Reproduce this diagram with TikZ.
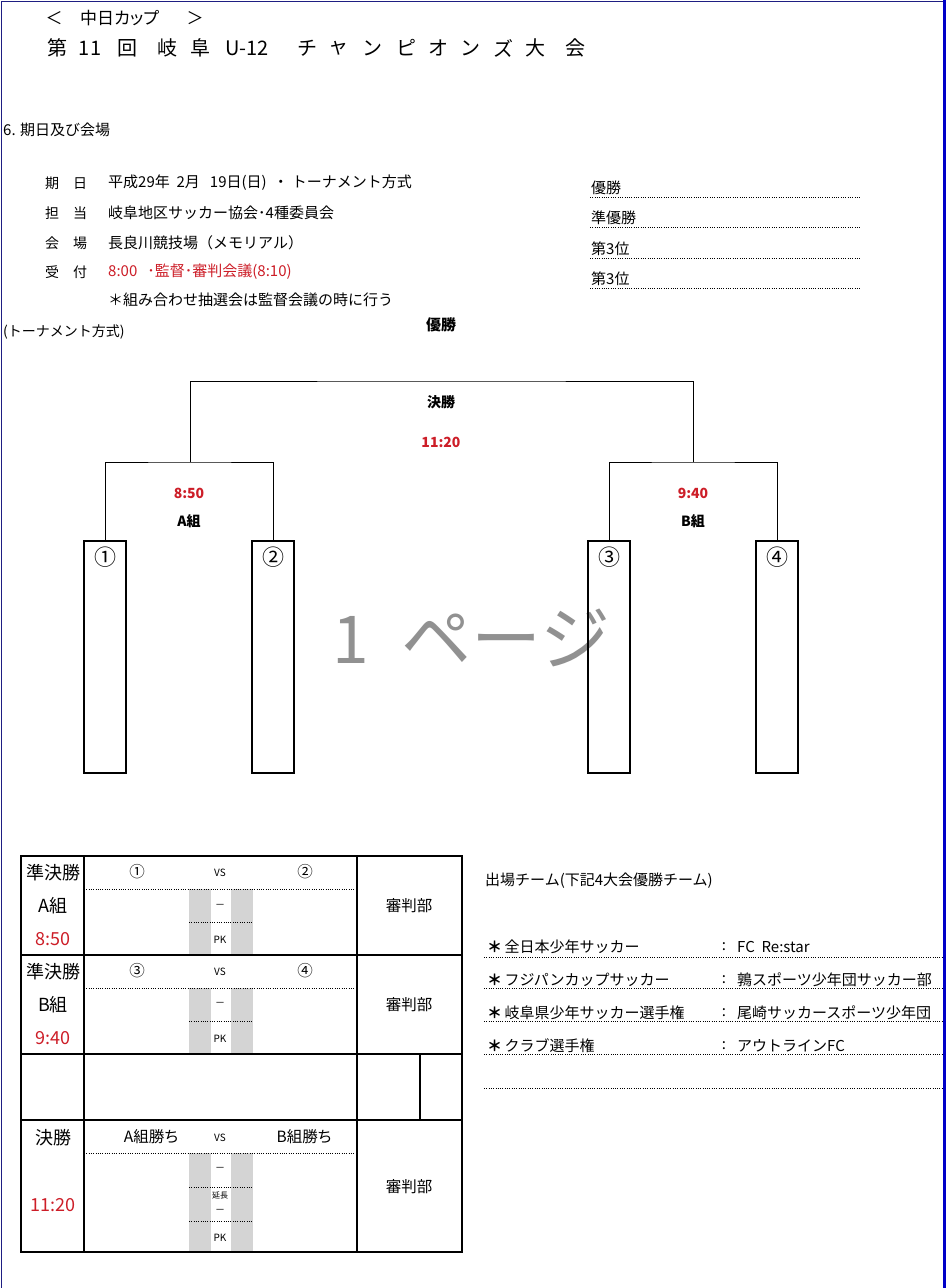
\documentclass[tikz,border=0pt]{standalone}
\usepackage{fontspec}
\setmainfont{Noto Sans CJK JP}
\newfontfamily\pf{Noto Sans CJK JP}[RawFeature={+palt}]
\definecolor{navyb}{RGB}{30,30,130}
\definecolor{blueb}{RGB}{0,0,200}
\definecolor{redt}{RGB}{205,30,40}
\definecolor{lg}{RGB}{212,212,212}
\definecolor{wm}{RGB}{145,145,145}
\tikzset{
  tx/.style={inner sep=0pt, font=\fontsize{14}{16}\selectfont},
  txw/.style={tx, anchor=west},
  vw/.style={inner sep=0pt, anchor=west, font=\fontsize{15}{17}\selectfont},
  ttl/.style={inner sep=0pt, font=\fontsize{20}{22}\selectfont},
  dotl/.style={line width=0.8pt, dash pattern=on 1pt off 1.3pt},
  brk/.style={line width=0.9pt},
  bx/.style={draw, line width=2pt, minimum width=42pt, minimum height=232pt, inner sep=0pt},
  tb/.style={line width=2.5pt},
  bl/.style={inner sep=0pt, font=\bfseries\fontsize{14}{16}\selectfont},
  big/.style={inner sep=0pt, font=\fontsize{18}{20}\selectfont},
  sm/.style={inner sep=0pt, font=\fontsize{10}{12}\selectfont},
  mid/.style={inner sep=0pt, font=\pf\fontsize{15.5}{18}\selectfont},
  tl/.style={inner sep=0pt, anchor=west, font=\fontsize{15}{17}\selectfont},
}
\begin{document}
\begin{tikzpicture}[x=1pt,y=-1pt]
\useasboundingbox (0,0) rectangle (946,1288);
\fill[white] (0,0) rectangle (946,1288);
% page border
\draw[navyb, line width=1pt] (1,1288) -- (1,1) -- (944,1);
\fill[blueb] (943,0) rectangle (946,1288);

% watermark
\node[inner sep=0pt, text=wm, font=\fontsize{66}{70}\selectfont] (wm1) at (351,640) {1};
\node[inner sep=0pt, text=wm, font=\fontsize{70}{74}\selectfont] (wm2) at (506,638) {ページ};

% header
\node[inner sep=0pt, font=\fontsize{17}{19}\selectfont] (hl) at (54,18) {＜};
\node[inner sep=0pt, font=\pf\fontsize{17}{19}\selectfont, anchor=west] (hm) at (80,18) {中日カップ};
\node[inner sep=0pt, font=\fontsize{17}{19}\selectfont] (hr) at (195,18) {＞};
\foreach \x/\c [count=\i] in {57/第,90/11,127/回,167/岐,200/阜,247/U-12,307/チ,338/ャ,372/ン,406/ピ,438/オ,470/ン,503/ズ,535/大,575/会}
  \node[ttl] (t\i) at (\x,48) {\c};

\node[vw] (sec) at (3,130) {6. 期日及び会場};

% info rows
\node[txw] (l1) at (45,183) {期　日};
\node[vw] (v1) at (108,183) {平成29年\ \ 2月\ \ \ 19日(日)\ \ ・\ トーナメント方式};
\node[txw] (l2) at (45,213) {担　当};
\node[vw] (v2) at (108,213) {岐阜地区サッカー協会･4種委員会};
\node[txw] (l3) at (45,243) {会　場};
\node[vw] (v3) at (108,243) {長良川競技場（メモリアル）};
\node[txw] (l4) at (45,272) {受　付};
\node[vw, text=redt] (v4) at (108,272) {8:00\ \ \ ･監督･審判会議(8:10)};
\node[vw] (v5) at (108,300) {＊組み合わせ抽選会は監督会議の時に行う};
\node[txw] (tm) at (3,332) {(トーナメント方式)};

% results
\foreach \t/\y [count=\i] in {優勝/188,準優勝/218,第3位/249,第3位/279}{
  \node[txw, font=\pf\fontsize{15}{17}\selectfont] (r\i) at (591,\y) {\t};
  \draw[dotl] (590,\y+9) -- (861,\y+9);
}

% bracket
\node[inner sep=0pt, font=\bfseries\fontsize{15}{17}\selectfont] (win) at (441,325) {優勝};
\node[bl] (fin) at (441,402) {決勝};
\node[bl, text=redt] (fint) at (441,442) {11:20};
\node[bl, text=redt] (at) at (189,493) {8:50};
\node[bl] (ag) at (189,521) {A組};
\node[bl, text=redt] (bt) at (693,493) {9:40};
\node[bl] (bg) at (693,521) {B組};

\node[bx] (b1) at (105,657) {};
\node[bx] (b2) at (273,657) {};
\node[bx] (b3) at (609,657) {};
\node[bx] (b4) at (777,657) {};
\foreach \i/\c in {1/①,2/②,3/③,4/④}
  \node[inner sep=0pt, font=\fontsize{22}{24}\selectfont] (n\i) at ([yshift=-17pt]b\i.north) {\c};

\coordinate (ja) at (190,462);
\coordinate (jb) at (693,462);
\coordinate (jt) at (441,381);
\draw[brk] (b1.north) |- (ja) -| (b2.north);
\draw[brk] (b3.north) |- (jb) -| (b4.north);
\draw[brk] (ja) |- (jt) -| (jb);

% bottom table: gray columns
\foreach \ya/\yb in {889/955,988/1054,1153/1252}{
  \fill[lg] (189,\ya) rectangle (211,\yb);
  \fill[lg] (231,\ya) rectangle (253,\yb);
}
% dotted lines
\draw[dotl] (84,889) -- (355,889);
\draw[dotl] (189,922) -- (253,922);
\draw[dotl] (84,988) -- (355,988);
\draw[dotl] (189,1021) -- (253,1021);
\draw[dotl] (84,1153) -- (355,1153);
\draw[dotl] (189,1187) -- (253,1187);
\draw[dotl] (189,1221) -- (253,1221);
% grid
\draw[tb] (21,856) rectangle (462,1252);
\draw[tb] (84,856) -- (84,1252);
\draw[tb] (357,856) -- (357,1252);
\draw[tb] (21,955) -- (462,955);
\draw[tb] (21,1054) -- (462,1054);
\draw[tb] (21,1120) -- (462,1120);
\draw[tb] (420,1054) -- (420,1120);

% row 1
\node[big] (s1a) at (53,873) {準決勝};
\node[big] (s1b) at (53,906) {A組};
\node[big, text=redt] (s1c) at (53,939) {8:50};
\node[mid] (s1l) at (137,872) {①};
\node[sm] (s1v) at (220,873) {VS};
\node[mid] (s1r) at (305,872) {②};
\node[sm] (s1d) at (220,906) {－};
\node[sm] (s1p) at (220,940) {PK};
\node[mid] (s1j) at (409,906) {審判部};
% row 2
\node[big] (s2a) at (53,972) {準決勝};
\node[big] (s2b) at (53,1005) {B組};
\node[big, text=redt] (s2c) at (53,1038) {9:40};
\node[mid] (s2l) at (137,971) {③};
\node[sm] (s2v) at (220,972) {VS};
\node[mid] (s2r) at (305,971) {④};
\node[sm] (s2d) at (220,1004) {－};
\node[sm] (s2p) at (220,1039) {PK};
\node[mid] (s2j) at (409,1005) {審判部};
% row 4
\node[big] (f1a) at (53,1138) {決勝};
\node[big, text=redt] (f1c) at (53,1205) {11:20};
\node[mid] (f1l) at (151,1137) {A組勝ち};
\node[sm] (f1v) at (220,1138) {VS};
\node[mid] (f1r) at (304,1137) {B組勝ち};
\node[sm] (f1d) at (220,1169) {－};
\node[inner sep=0pt, font=\fontsize{8}{9}\selectfont] (f1e) at (220,1195) {延長};
\node[sm] (f1d2) at (220,1211) {－};
\node[sm] (f1p) at (220,1238) {PK};
\node[mid] (f1j) at (409,1187) {審判部};

% team list
\node[tl] (ent) at (485,881) {出場チーム(下記4大会優勝チーム)};
\foreach \a/\b/\y [count=\i] in {全日本少年サッカー/{FC\ \ Re:star}/947,フジパンカップサッカー/鶉スポーツ少年団サッカー部/980,岐阜県少年サッカー選手権/尾崎サッカースポーツ少年団/1013,クラブ選手権/アウトラインFC/1046}{
  \node[tl] (ea\i) at (487,\y) {\textbf{＊}\,\a};
  \node[inner sep=0pt, font=\fontsize{15}{17}\selectfont] (ec\i) at (724,\y) {:};
  \node[tl] (eb\i) at (737,\y) {\b};
}
\foreach \y in {957,988,1021,1054,1088}
  \draw[dotl] (484,\y) -- (943,\y);
\end{tikzpicture}
\end{document}
